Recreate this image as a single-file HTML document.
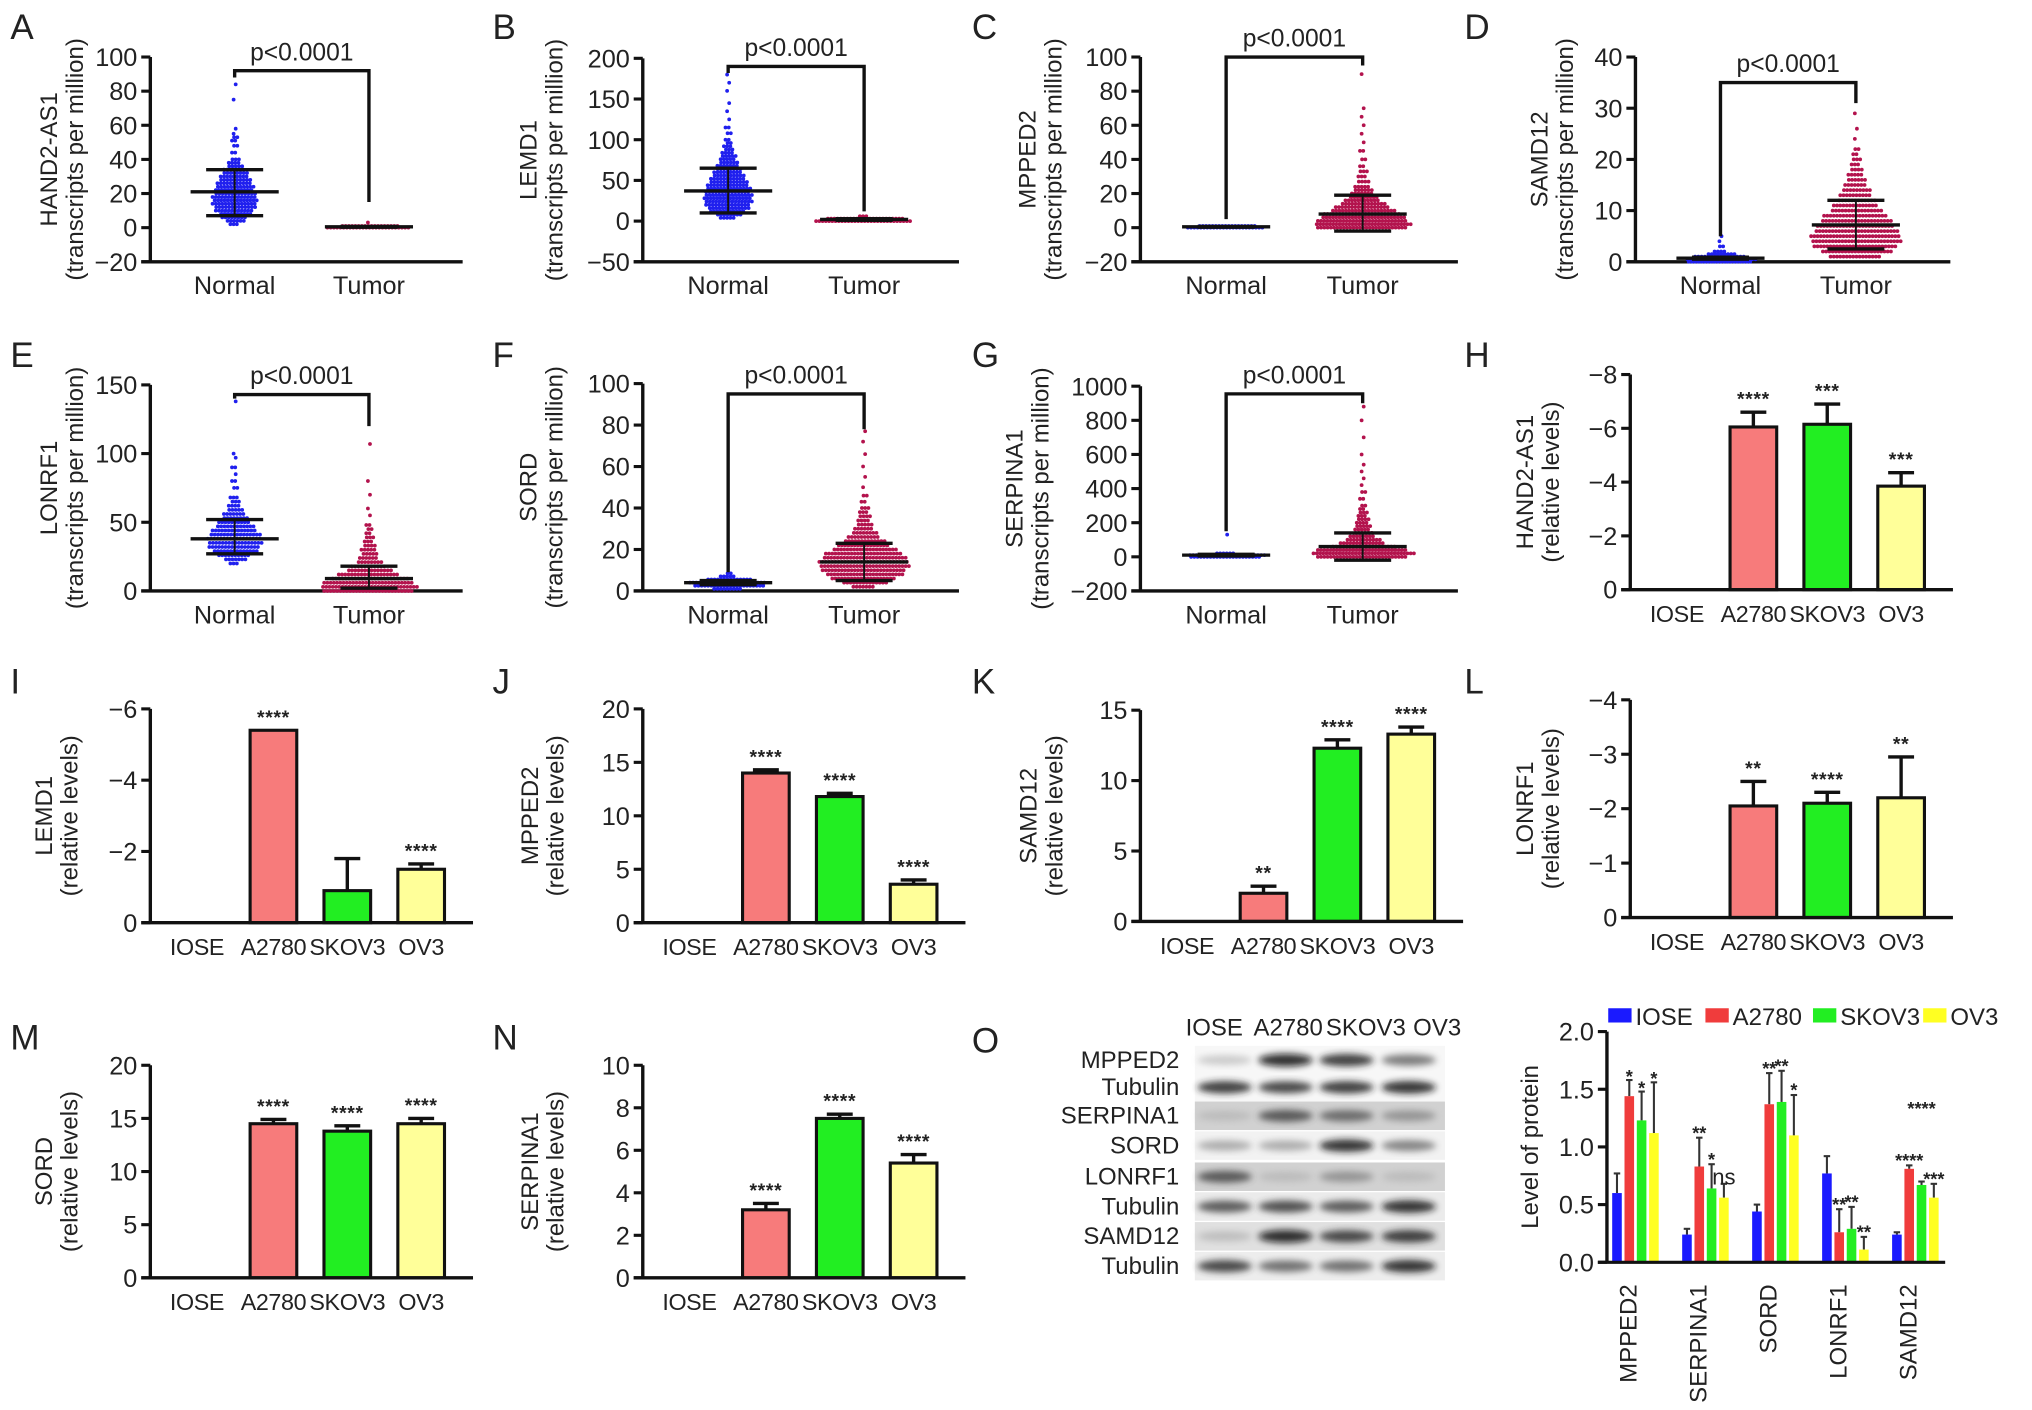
<!DOCTYPE html>
<html><head><meta charset="utf-8"><style>
html,body{margin:0;padding:0;background:#fff;}
svg{display:block;font-family:"Liberation Sans",Arial,sans-serif;}
</style></head><body>
<svg id="fig" width="2032" height="1410" viewBox="0 0 1568 1088" preserveAspectRatio="none" xmlns="http://www.w3.org/2000/svg">
<defs><filter id="blur" x="-20%" y="-50%" width="140%" height="200%"><feGaussianBlur stdDeviation="2.6"/></filter></defs>
</svg>
<script>
// ---------- scatter data ----------
const scatterGenes = ['HAND2-AS1','LEMD1','MPPED2','SAMD12','LONRF1','SORD','SERPINA1'];
const scatterTicks = [[100,80,60,40,20,0,-20],[200,150,100,50,0,-50],[100,80,60,40,20,0,-20],[40,30,20,10,0],[150,100,50,0],[100,80,60,40,20,0],[1000,800,600,400,200,0,-200]];
const normLevels = [
 [2,4,6,8,10,12,14,16,18,20,22,24,26,28,30,32,34,36,38,40,44,48,51,53,55,58,75,84],
 [4,8,12,16,20,24,28,32,36,40,44,48,52,56,60,64,68,72,76,80,84,88,92,96,100,108,115,125,135,145,160,170,180],
 [0,1],
 [0,0.5,1,1.5,2,3,4,5],
 [20,23,26,29,32,35,38,41,44,47,50,53,56,59,62,65,68,75,80,85,90,97,100,138],
 [1,2.5,4,5.5,7,8.5],
 [0,10,20,130]];
const normCounts = [
 [3,6,8,10,12,13,14,14,14,13,12,12,11,10,9,8,7,5,4,3,2,2,2,2,1,1,1,1],
 [5,8,11,13,14,15,15,15,14,14,13,12,11,10,9,8,7,6,5,5,4,3,3,2,2,2,2,1,1,1,1,1,1],
 [24,18],
 [20,22,16,9,4,2,1,1],
 [3,7,10,14,16,17,17,16,14,12,10,8,7,5,4,3,3,2,2,1,2,1,1,1],
 [9,22,24,14,5,2],
 [22,24,6,1]];
const tumLevels = [
 [0,1,3],
 [0,3,6],
 [0,2,4,6,8,10,12,14,16,18,20,22,24,27,30,33,36,40,45,50,55,60,65,70,90],
 [1,2,3,4,5,6,7,8,9,10,11,12,13,14,15,16,17,18,19,20,21,22,24,26,29],
 [0,3,6,9,12,15,18,21,24,27,30,33,36,39,42,45,48,55,60,70,80,107],
 [2,4,6,8,10,12,14,16,18,20,22,24,26,28,30,32,34,36,38,40,43,46,50,55,60,66,72,77],
 [0,20,40,60,80,100,120,140,160,180,200,220,240,260,280,300,340,380,420,460,500,540,600,700,800,880]];
const tumCounts = [
 [26,18,1],
 [30,24,3],
 [28,30,28,26,24,20,17,14,11,9,7,6,5,4,3,3,2,2,2,1,1,1,1,1,1],
 [16,22,26,28,28,26,24,22,20,16,14,12,10,9,7,6,5,4,3,3,2,2,1,1,1],
 [28,30,28,24,19,14,11,8,6,5,5,4,3,3,2,2,2,1,1,1,1,1],
 [7,14,20,24,26,28,28,26,24,20,16,13,10,8,6,5,4,4,3,3,2,2,1,1,1,1,1,1],
 [28,32,28,20,14,11,8,6,5,5,4,4,3,3,2,2,2,2,1,1,1,1,1,1,1,1]];
const normStats = [[21,7,34],[37,10,65],[0.5,0.3,0.7],[0.7,0.5,0.9],[38,27,52],[4,3,5],[10,5,15]]; // mean, lo, hi
const tumStats = [[0.5,0.3,0.7],[2,1,3],[8,-2,19],[7.2,2.5,12],[9,2,18],[14,5,23],[60,-20,140]];
const brackets = [[92,88,15],[190,182,12],[100,5,95],[35,5,31],[143,140,120],[95,9,78],[955,150,900]]; // level, left drop, right drop

// ---------- qPCR bar data ----------
const barCats = ['IOSE','A2780','SKOV3','OV3'];
const barGenes = ['HAND2-AS1','LEMD1','MPPED2','SAMD12','LONRF1','SORD','SERPINA1'];
const barTickVals = [[8,6,4,2,0],[6,4,2,0],[20,15,10,5,0],[15,10,5,0],[4,3,2,1,0],[20,15,10,5,0],[10,8,6,4,2,0]];
const barTickLabels = [['−8','−6','−4','−2','0'],['−6','−4','−2','0'],['20','15','10','5','0'],['15','10','5','0'],['−4','−3','−2','−1','0'],['20','15','10','5','0'],['10','8','6','4','2','0']];
const barVals = [[0,6.05,6.15,3.85],[0,5.4,0.9,1.5],[0,14,11.8,3.6],[0,2,12.3,13.3],[0,2.05,2.1,2.2],[0,14.5,13.8,14.5],[0,3.2,7.5,5.4]];
const barErrs = [[0,0.55,0.75,0.5],[0,0,0.9,0.15],[0,0.3,0.3,0.4],[0,0.5,0.6,0.5],[0,0.45,0.2,0.75],[0,0.4,0.5,0.5],[0,0.3,0.2,0.4]];
const barStars = [['','****','***','***'],['','****','','****'],['','****','****','****'],['','**','****','****'],['','**','****','**'],['','****','****','****'],['','****','****','****']];

// ---------- protein bar data (panel O) ----------
const protGenes = ['MPPED2','SERPINA1','SORD','LONRF1','SAMD12'];
const protSeries = ['IOSE','A2780','SKOV3','OV3'];
const protTicks = [2.0,1.5,1.0,0.5,0.0];
const protVals = [[0.6,1.44,1.23,1.12],[0.24,0.83,0.64,0.56],[0.44,1.37,1.39,1.1],[0.77,0.26,0.29,0.11],[0.24,0.81,0.67,0.56]];
const protErrTop = [[0.77,1.58,1.48,1.56],[0.29,1.08,0.85,0.68],[0.5,1.64,1.66,1.45],[0.92,0.46,0.48,0.22],[0.26,0.84,0.7,0.68]];
const protStars = [['','*','*','*'],['','**','*','ns'],['','**','**','*'],['','**','**','**'],['','****','****','***']];
const protStarPos = [[0,1.6,1.5,1.58],[0,1.11,0.88,0.72],[0,1.67,1.69,1.48],[0,0.49,0.51,0.25],[0,0.87,1.32,0.71]];

// ---------- blot data ----------
const blotLanes = ['IOSE','A2780','SKOV3','OV3'];
const blotRows = ['MPPED2','Tubulin','SERPINA1','SORD','LONRF1','Tubulin','SAMD12','Tubulin'];
const blotIntensity = [[0.15,0.95,0.85,0.55],[0.85,0.8,0.85,0.9],[0.2,0.7,0.6,0.4],[0.3,0.3,0.9,0.5],[0.7,0.2,0.4,0.2],[0.7,0.75,0.7,0.9],[0.2,0.95,0.8,0.85],[0.8,0.6,0.6,0.9]];
const blotBg = [0.97,0.97,0.82,0.95,0.82,0.92,0.88,0.93];

const svg = document.getElementById('fig');
const NS = 'http://www.w3.org/2000/svg';
function mk(tag, name, attrs, parent){
  const el = document.createElementNS(NS, tag);
  
  
  for (const k in attrs) el.setAttribute(k, attrs[k]);
  (parent||svg).appendChild(el);
  return el;
}
function txt(name, s, x, y, size, anchor, parent, extra){
  const t = mk('text', name, Object.assign({x:x, y:y, 'font-size':size, 'text-anchor':anchor||'middle', fill:'#222'}, extra||{}), parent);
  t.textContent = s;
  return t;
}
function panelLetter(L, x, y){ txt('panel-label-'+L.toLowerCase(), L, x, y, 27, 'start'); }

function yAxis(g, x0, top, bot, vals, labels, key){
  const mn = Math.min(...vals), mx = Math.max(...vals);
  const y = v => bot - (v - mn) / (mx - mn) * (bot - top);
  mk('line', key+'-y-axis', {x1:x0, y1:top, x2:x0, y2:bot, stroke:'#111', 'stroke-width':2.6}, g);
  vals.forEach((v,i) => {
    mk('line', key+'-y-tick', {x1:x0-7, y1:y(v), x2:x0, y2:y(v), stroke:'#111', 'stroke-width':2.4}, g);
    txt(key+'-y-tick-label', labels[i], x0-10, y(v)+7, 19.5, 'end', g);
  });
  return y;
}
function yTitle(g, x0, top, bot, l1, l2, key, off){
  const cy = (top+bot)/2;
  const a = x0-off, b = x0-off+20;
  txt(key+'-y-title', l1, a, cy, 18.5, 'middle', g, {transform:'rotate(-90 '+a+' '+cy+')'});
  txt(key+'-y-subtitle', l2, b, cy, 18.5, 'middle', g, {transform:'rotate(-90 '+b+' '+cy+')'});
}

// ---------- scatter panels ----------
const scatterPos = [
 {L:'A', x0:116, top:44, bot:202, end:357, lx:8, ly:30, off:72},
 {L:'B', x0:496, top:45, bot:202, end:740, lx:380, ly:30, off:82},
 {L:'C', x0:880, top:44, bot:202, end:1125, lx:750, ly:30, off:81},
 {L:'D', x0:1262, top:44, bot:202, end:1505, lx:1130, ly:30, off:68},
 {L:'E', x0:116, top:297, bot:456, end:357, lx:8, ly:283, off:72},
 {L:'F', x0:496, top:296, bot:456, end:740, lx:380, ly:283, off:82},
 {L:'G', x0:880, top:298, bot:456, end:1125, lx:750, ly:283, off:91}];
function cloud(g, cx, y, levels, counts, color, key){
  levels.forEach((lv,i) => {
    const n = counts[i], sp = 2.5;
    for (let j=0;j<n;j++){
      const dx = (j - (n-1)/2) * sp + ((i%2)?0.8:-0.8);
      mk('circle', key+'-point', {cx:cx+dx, cy:y(lv), r:1.45, fill:color}, g);
    }
  });
}
scatterPos.forEach((p,k) => {
  const key = 'panel-'+p.L.toLowerCase();
  const g = mk('g', key, {});
  panelLetter(p.L, p.lx, p.ly);
  const vals = scatterTicks[k];
  const y = yAxis(g, p.x0, p.top, p.bot, vals, vals.map(v => v<0 ? '−'+(-v) : String(v)), key);
  mk('line', key+'-x-axis', {x1:p.x0-7, y1:p.bot, x2:p.end, y2:p.bot, stroke:'#111', 'stroke-width':2.6}, g);
  yTitle(g, p.x0, p.top, p.bot, scatterGenes[k], '(transcripts per million)', key, p.off);
  const nx = p.x0 + (p.end-p.x0)*0.27, tx = p.x0 + (p.end-p.x0)*0.70;
  txt(key+'-x-label-normal', 'Normal', nx, p.bot+25, 19.5, 'middle', g);
  txt(key+'-x-label-tumor', 'Tumor', tx, p.bot+25, 19.5, 'middle', g);
  cloud(g, nx, y, normLevels[k], normCounts[k], '#2020ee', key+'-normal');
  cloud(g, tx, y, tumLevels[k], tumCounts[k], '#b3134d', key+'-tumor');
  [[nx, normStats[k]],[tx, tumStats[k]]].forEach(([cx,s],gi) => {
    const nm = gi? 'tumor':'normal';
    mk('line', key+'-'+nm+'-mean', {x1:cx-34, x2:cx+34, y1:y(s[0]), y2:y(s[0]), stroke:'#111', 'stroke-width':2.6}, g);
    mk('line', key+'-'+nm+'-sd-low', {x1:cx-22, x2:cx+22, y1:y(s[1]), y2:y(s[1]), stroke:'#111', 'stroke-width':2.6}, g);
    mk('line', key+'-'+nm+'-sd-high', {x1:cx-22, x2:cx+22, y1:y(s[2]), y2:y(s[2]), stroke:'#111', 'stroke-width':2.6}, g);
    mk('line', key+'-'+nm+'-sd-bar', {x1:cx, x2:cx, y1:y(s[1]), y2:y(s[2]), stroke:'#111', 'stroke-width':1.5}, g);
  });
  const b = brackets[k];
  mk('polyline', key+'-significance-bracket', {points:nx+','+y(b[1])+' '+nx+','+y(b[0])+' '+tx+','+y(b[0])+' '+tx+','+y(b[2]), fill:'none', stroke:'#111', 'stroke-width':2.6}, g);
  txt(key+'-p-value', 'p<0.0001', (nx+tx)/2, y(b[0])-8, 19, 'middle', g);
});

// ---------- bar panels ----------
const barPos = [
 {L:'H', x0:1258, top:289, bot:455, lx:1130, ly:283, off:75},
 {L:'I', x0:116, top:547, bot:712, lx:8, ly:535, off:76},
 {L:'J', x0:496, top:547, bot:712, lx:380, ly:535, off:81},
 {L:'K', x0:880, top:548, bot:711, lx:750, ly:535, off:80},
 {L:'L', x0:1258, top:540, bot:708, lx:1130, ly:535, off:75},
 {L:'M', x0:116, top:822, bot:986, lx:8, ly:810, off:76},
 {L:'N', x0:496, top:822, bot:986, lx:380, ly:810, off:81}];
const catOff = [36,95,152,209];
const barFill = ['#ffffff','#f77b7b','#22ee22','#ffff99'];
barPos.forEach((p,k) => {
  const key = 'panel-'+p.L.toLowerCase();
  const g = mk('g', key, {});
  panelLetter(p.L, p.lx, p.ly);
  const y = yAxis(g, p.x0, p.top, p.bot, barTickVals[k], barTickLabels[k], key);
  yTitle(g, p.x0, p.top, p.bot, barGenes[k], '(relative levels)', key, p.off);
  barCats.forEach((c,i) => {
    const cx = p.x0 + catOff[i];
    txt(key+'-x-label-'+c.toLowerCase(), c, cx, p.bot+25, 18, 'middle', g, {'letter-spacing':'-0.3'});
    const v = barVals[k][i];
    if (v > 0){
      const e = barErrs[k][i];
      if (e > 0){
        mk('line', key+'-error-'+c.toLowerCase(), {x1:cx, x2:cx, y1:y(v), y2:y(v+e), stroke:'#111', 'stroke-width':2.6}, g);
        mk('line', key+'-error-cap-'+c.toLowerCase(), {x1:cx-10, x2:cx+10, y1:y(v+e), y2:y(v+e), stroke:'#111', 'stroke-width':2.6}, g);
      }
      mk('rect', key+'-bar-'+c.toLowerCase(), {x:cx-18, y:y(v), width:36, height:p.bot-y(v), fill:barFill[i], stroke:'#111', 'stroke-width':2.4}, g);
      if (barStars[k][i]) txt(key+'-stars-'+c.toLowerCase(), barStars[k][i], cx, y(v+e)-5, 15, 'middle', g, {'font-weight':'bold', 'letter-spacing':'0.5'});
    }
  });
  mk('line', key+'-x-axis', {x1:p.x0-7, y1:p.bot, x2:p.x0+249, y2:p.bot, stroke:'#111', 'stroke-width':2.6}, g);
});

// ---------- panel O blot ----------
panelLetter('O', 750, 812);
const gb = mk('g', 'western-blot', {});
const blotRowY = [818,839,861,884,908,931,954,977];
const laneX = [945,992,1039,1087];
blotLanes.forEach((l,i) => txt('blot-lane-label-'+l.toLowerCase(), l, [937,994,1054,1109][i], 799, 18.5, 'middle', gb));
blotRows.forEach((r,i) => {
  const cy = blotRowY[i];
  txt('blot-row-label', r, 910, cy+6, 18.5, 'end', gb);
  const bg = Math.round(255*blotBg[i]);
  mk('rect', 'blot-strip', {x:922, y:cy-11, width:193, height:22, fill:'rgb('+bg+','+bg+','+bg+')'}, gb);
  blotIntensity[i].forEach((v,j) => {
    const c = Math.round(255*(1-v)*0.9);
    mk('ellipse', 'blot-band', {cx:laneX[j], cy:cy, rx:21, ry:3.5+v*1.5, fill:'rgb('+c+','+c+','+c+')', opacity:0.85, filter:'url(#blur)'}, gb);
  });
});

// ---------- panel O chart ----------
const go = mk('g', 'protein-chart', {});
const ox0 = 1240, otop = 796, obot = 974, oend = 1501;
const oy = yAxis(go, ox0, otop, obot, protTicks, protTicks.map(v=>v.toFixed(1)), 'protein-chart');
const cyT = (otop+obot)/2;
txt('protein-chart-y-title', 'Level of protein', ox0-53, cyT, 18.5, 'middle', go, {transform:'rotate(-90 '+(ox0-53)+' '+cyT+')'});
const protColors = ['#1a1aff','#f03c3c','#22ee22','#ffff22'];
protGenes.forEach((gn,gi) => {
  const gc = 1262 + gi*54;
  protSeries.forEach((s,si) => {
    const bx = gc + (si-1.5)*9.5;
    const v = protVals[gi][si];
    mk('line', 'protein-error-'+gn.toLowerCase()+'-'+s.toLowerCase(), {x1:bx, x2:bx, y1:oy(v), y2:oy(protErrTop[gi][si]), stroke:'#333', 'stroke-width':1.6}, go);
    mk('line', 'protein-error-cap', {x1:bx-2.5, x2:bx+2.5, y1:oy(protErrTop[gi][si]), y2:oy(protErrTop[gi][si]), stroke:'#333', 'stroke-width':1.6}, go);
    mk('rect', 'protein-bar-'+gn.toLowerCase()+'-'+s.toLowerCase(), {x:bx-3.7, y:oy(v), width:7.4, height:obot-oy(v), fill:protColors[si]}, go);
    if (protStars[gi][si]) txt('protein-stars', protStars[gi][si], bx, oy(protStarPos[gi][si])+4, protStars[gi][si]==='ns'?17:14, 'middle', go, protStars[gi][si]==='ns'?{}:{'font-weight':'bold'});
  });
  txt('protein-x-label-'+gn.toLowerCase(), gn, gc-5, 985, 18.5, 'end', go, {transform:'rotate(-90 '+(gc-5+6)+' 985)'});
});
mk('line', 'protein-chart-x-axis', {x1:ox0-7, y1:obot, x2:oend, y2:obot, stroke:'#111', 'stroke-width':2.4}, go);
const lgX = [1241,1316,1399,1484];
protSeries.forEach((s,i) => {
  mk('rect', 'legend-swatch-'+s.toLowerCase(), {x:lgX[i], y:778, width:18, height:11, fill:protColors[i]}, go);
  txt('legend-entry-'+s.toLowerCase(), s, lgX[i]+21, 791, 18.5, 'start', go);
});
</script>
</body></html>
